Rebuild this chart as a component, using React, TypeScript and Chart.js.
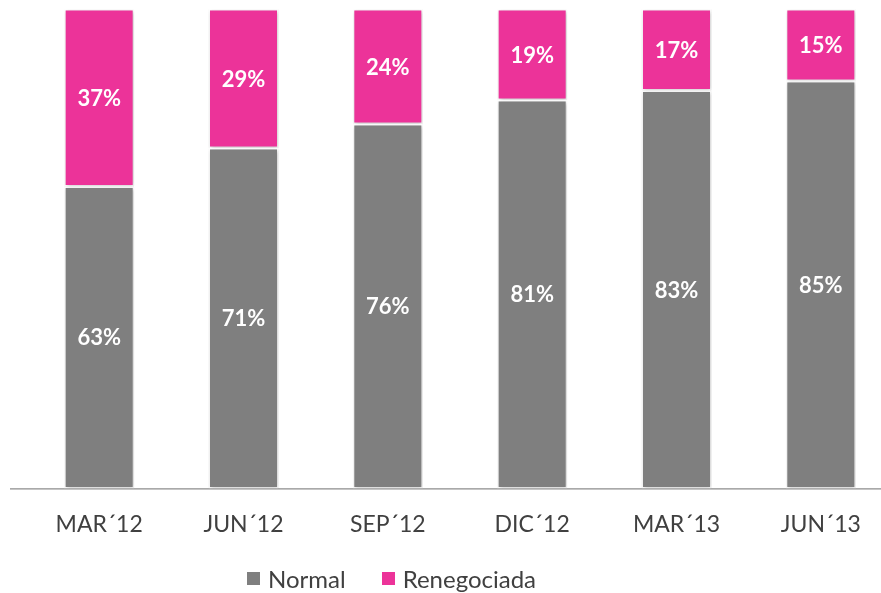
import React, { useEffect, useRef } from "react";
import { Chart, registerables } from "chart.js";

Chart.register(...registerables);

const categories = ["MAR´12", "JUN´12", "SEP´12", "DIC´12", "MAR´13", "JUN´13"];
const normalValues = [63, 71, 76, 81, 83, 85];
const renegociadaValues = [37, 29, 24, 19, 17, 15];
const seriesNames = ["Normal", "Renegociada"];
const seriesColors = ["#7F7F7F", "#EC3399"];

const FONT = "Lato, 'Open Sans', 'Liberation Sans', sans-serif";

const baselinePlugin = {
  id: "baseline",
  beforeDatasetsDraw(chart: any) {
    const { ctx, chartArea } = chart;
    ctx.save();
    ctx.strokeStyle = "#8C8C8C";
    ctx.lineWidth = 1.2;
    ctx.beginPath();
    ctx.moveTo(10, chartArea.bottom + 0.5);
    ctx.lineTo(chart.width, chartArea.bottom + 0.5);
    ctx.stroke();
    ctx.restore();
    ctx.save();
    ctx.shadowColor = "rgba(0,0,0,0.22)";
    ctx.shadowBlur = 4;
    ctx.shadowOffsetX = 1;
    ctx.shadowOffsetY = 1;
  },
  afterDatasetsDraw(chart: any) {
    const { ctx } = chart;
    ctx.restore();
    ctx.save();
    ctx.fillStyle = "#FFFFFF";
    ctx.font = `bold 22px ${FONT}`;
    ctx.textAlign = "center";
    ctx.textBaseline = "middle";
    chart.data.datasets.forEach((ds: any, di: number) => {
      const meta = chart.getDatasetMeta(di);
      meta.data.forEach((el: any, i: number) => {
        const { x, y, base } = el.getProps(["x", "y", "base"], true);
        ctx.fillText(`${ds.data[i]}%`, x, (y + base) / 2 + 1);
      });
    });
    ctx.restore();
  },
};

export default function App() {
  const ref = useRef<HTMLCanvasElement | null>(null);
  useEffect(() => {
    if (!ref.current) return;
    const chart = new Chart(ref.current, {
      type: "bar",
      data: {
        labels: categories,
        datasets: [
          {
            label: seriesNames[0],
            data: normalValues,
            backgroundColor: seriesColors[0],
            borderColor: "#FFFFFF",
            borderWidth: 1.5,
            borderSkipped: false,
          },
          {
            label: seriesNames[1],
            data: renegociadaValues,
            backgroundColor: seriesColors[1],
            borderColor: "#FFFFFF",
            borderWidth: 1.5,
            borderSkipped: false,
          },
        ],
      },
      options: {
        responsive: false,
        animation: false,
        layout: { padding: { top: 9, left: 27, right: 0, bottom: 33 } },
        datasets: { bar: { categoryPercentage: 1, barPercentage: 0.485 } },
        plugins: {
          legend: { display: false },
          tooltip: { enabled: false },
        },
        scales: {
          x: {
            stacked: true,
            grid: { display: false, drawTicks: false },
            border: { display: false },
            ticks: {
              padding: 22,
              color: "#404040",
              font: { family: FONT, size: 23 },
              maxRotation: 0,
            },
          },
          y: { stacked: true, display: false, min: 0, max: 100 },
        },
      },
      plugins: [baselinePlugin],
    });
    return () => chart.destroy();
  }, []);

  return (
    <div
      style={{
        position: "absolute",
        left: 0,
        top: 0,
        width: 881,
        height: 593,
        overflow: "hidden",
        background: "#FFFFFF",
      }}
    >
      <canvas ref={ref} width={893} height={593} style={{ display: "block" }} />
      <div
        style={{
          position: "absolute",
          left: 247,
          top: 563,
          height: 30,
          display: "flex",
          alignItems: "center",
          fontFamily: FONT,
          fontSize: 24,
          color: "#404040",
        }}
      >
        {seriesNames.map((name, i) => (
          <div key={name} style={{ display: "flex", alignItems: "center", marginLeft: i === 0 ? 0 : 36 }}>
            <span style={{ width: 13, height: 13, background: seriesColors[i], display: "inline-block", marginRight: 8 }} />
            <span>{name}</span>
          </div>
        ))}
      </div>
    </div>
  );
}
